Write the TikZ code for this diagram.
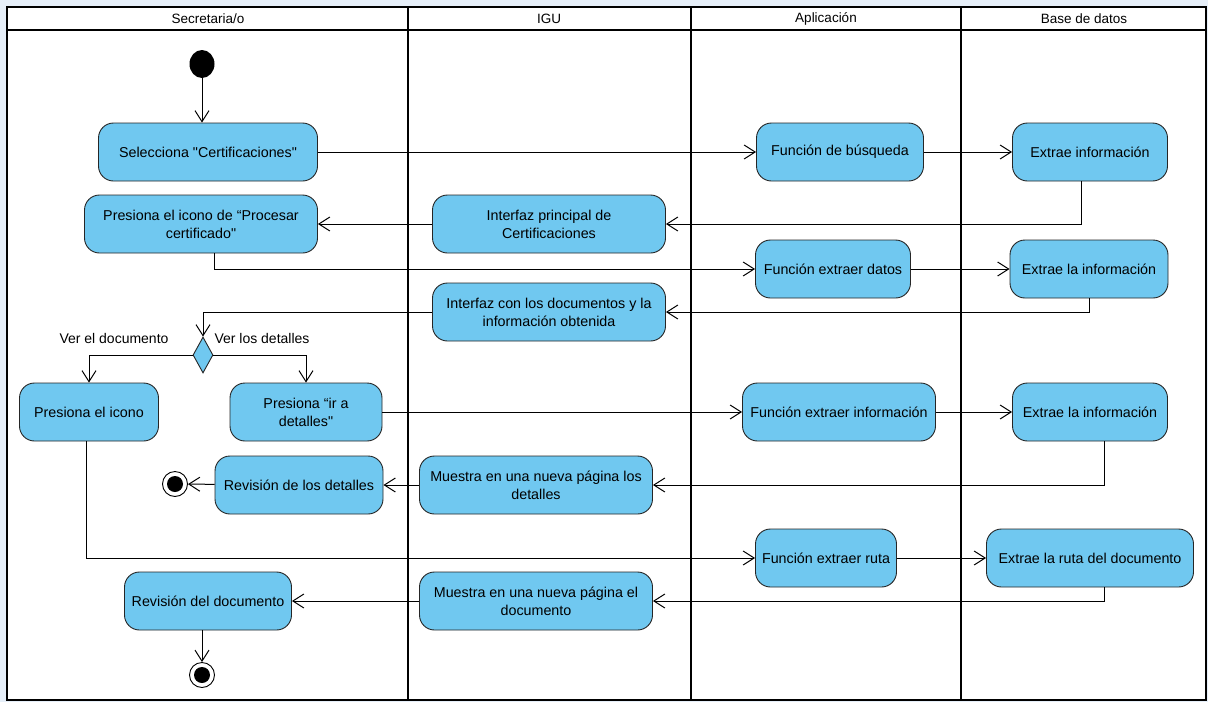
\documentclass[tikz,border=0pt]{standalone}
\usepackage{fontspec}
\setmainfont{Liberation Sans}[Ligatures=TeXOff]
\usetikzlibrary{shapes.geometric, arrows.meta}
\definecolor{actblue}{RGB}{112,200,240}
\definecolor{pageblue}{RGB}{230,239,249}
\tikzstyle{action} = [rectangle, rounded corners=15pt, minimum height=58pt, align=center, draw=black!85, line width=0.9pt, fill=actblue, font=\fontsize{14.3}{18}\selectfont, inner sep=3pt]
\tikzstyle{startnode} = [ellipse, fill=black, minimum width=25pt, minimum height=28pt, inner sep=0pt]
\tikzstyle{endnode} = [circle, draw=black, line width=0.9pt, fill=white, minimum size=25pt, inner sep=0pt, path picture={\fill[black] (path picture bounding box.center) circle (8pt);}]
\tikzstyle{decision} = [diamond, minimum width=20pt, minimum height=36pt, inner sep=0pt, draw=black!85, line width=0.9pt, fill=actblue]
\tikzstyle{guard} = [font=\fontsize{14}{16}\selectfont, inner sep=0pt]
\tikzstyle{lanetitle} = [font=\fontsize{13.5}{16}\selectfont, inner sep=0pt]
\tikzstyle{lane} = [line width=2.2pt, black]
\tikzstyle{arrow} = [line width=1pt, ->, >={Straight Barb[length=11pt, width=14pt]}]

\begin{document}
\begin{tikzpicture}[x=1pt, y=-1pt]
\useasboundingbox (0,0) rectangle (1208,702);
\fill[pageblue] (0,0) rectangle (1208,702);
\fill[white] (7,7) rectangle (1206,700);

% swimlanes
\draw[lane] (7,7) rectangle (1206,700);
\draw[lane] (7,30) -- (1206,30);
\draw[lane] (408,7) -- (408,700);
\draw[lane] (691,7) -- (691,700);
\draw[lane] (961,7) -- (961,700);
\node (tsec) [lanetitle] at (208,19) {Secretaria/o};
\node (tigu) [lanetitle] at (549,19) {IGU};
\node (tapp) [lanetitle] at (826,19) {Aplicación};
\node (tbd) [lanetitle] at (1084,19) {Base de datos};

\node (init) [startnode] at (202,64) {};
\node (sel) [action, minimum width=219pt] at (208,152) {Selecciona "Certificaciones"};
\node (fbus) [action, minimum width=167pt] at (840,152) {Función de búsqueda};
\node (extinfo) [action, minimum width=155pt] at (1090,152) {Extrae información};

\node (proc) [action, minimum width=233pt] at (201,224) {Presiona el icono de “Procesar\\certificado"};
\node (intprin) [action, minimum width=233pt] at (549,224) {Interfaz principal de\\Certificaciones};
\node (fdatos) [action, minimum width=155pt] at (833,269) {Función extraer datos};
\node (extinf1) [action, minimum width=158pt] at (1089,269) {Extrae la información};
\node (intdocs) [action, minimum width=233pt] at (549,312) {Interfaz con los documentos y la\\información obtenida};

\node (dec) [decision] at (203,355) {};
\node (lbldoc) [guard] at (114,338) {Ver el documento};
\node (lbldet) [guard] at (262,338) {Ver los detalles};

\node (picono) [action, minimum width=139pt] at (89,412) {Presiona el icono};
\node (pdet) [action, minimum width=152pt] at (306,412) {Presiona “ir a\\detalles"};
\node (finfo) [action, minimum width=193pt] at (839,412) {Función extraer información};
\node (extinf2) [action, minimum width=155pt] at (1090,412) {Extrae la información};

\node (revdet) [action, minimum width=168pt] at (299,485) {Revisión de los detalles};
\node (fin1) [endnode] at (175,484) {};
\node (mdet) [action, minimum width=233pt] at (536,485) {Muestra en una nueva página los\\detalles};

\node (fruta) [action, minimum width=141pt] at (826,558) {Función extraer ruta};
\node (extruta) [action, minimum width=207pt] at (1090,558) {Extrae la ruta del documento};

\node (revdoc) [action, minimum width=167pt] at (208,601) {Revisión del documento};
\node (mdoc) [action, minimum width=233pt] at (536,601) {Muestra en una nueva página el\\documento};
\node (fin2) [endnode] at (202,675) {};

\draw [arrow] (init) -- (init |- sel.north);
\draw [arrow] (sel) -- (fbus);
\draw [arrow] (fbus) -- (extinfo);
\draw [arrow] ([xshift=-9pt]extinfo.south) |- (intprin.east);
\draw [arrow] (intprin) -- (proc);
\draw [arrow] ([xshift=13pt]proc.south) |- (fdatos.west);
\draw [arrow] (fdatos) -- (extinf1);
\draw [arrow] (extinf1.south) |- (intdocs.east);
\draw [arrow] (intdocs.west) -| (dec.north);
\draw [arrow] (dec.west) -| (picono.north);
\draw [arrow] (dec.east) -| (pdet.north);
\draw [arrow] (pdet) -- (finfo);
\draw [arrow] (finfo) -- (extinf2);
\draw [arrow] ([xshift=14pt]extinf2.south) |- (mdet.east);
\draw [arrow] (mdet) -- (revdet);
\draw [arrow] (revdet) -- (fin1);
\draw [arrow] ([xshift=-3pt]picono.south) |- (fruta.west);
\draw [arrow] (fruta) -- (extruta);
\draw [arrow] ([xshift=14pt]extruta.south) |- (mdoc.east);
\draw [arrow] (mdoc) -- (revdoc);
\draw [arrow] ([xshift=-6pt]revdoc.south) -- (fin2);
\end{tikzpicture}
\end{document}
